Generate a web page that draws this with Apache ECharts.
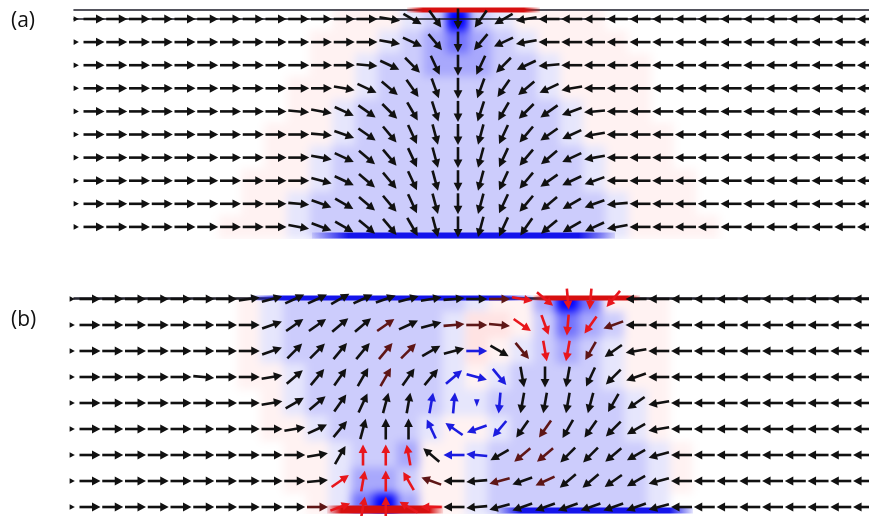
<!DOCTYPE html>
<html><head><meta charset="utf-8">
<script src="https://cdn.jsdelivr.net/npm/echarts@6/dist/echarts.min.js"></script>
<style>
html,body{margin:0;padding:0;background:#fff;overflow:hidden}
.layer{position:absolute;left:0;top:0;width:869px;height:516px}
#bg{filter:blur(4px);clip-path:path('M74 9 H869 V239 H74 Z M74 297 H869 V514 H74 Z')}
</style></head><body>
<div id="bg" class="layer"></div><div id="fg" class="layer"></div>
<script>
// ---------- data ----------
// columns: [edge column, k0..k9, k10..k19, k20..k29, k30..k34]; angle in degrees (0 = right, 90 = up)
const panelLabels = ['(a)', '(b)'];
const EDGE_X = -0.78;

const angA = [
 [0, 0,0,0,0,0,0,0,0,0,0, 0,0,0,-10,-30,-55,-90,-125,-150,-170, 180,180,180,180,180,180,180,180,180,180, 180,180,180,180,180],
 [0, 0,0,0,0,0,0,0,0,0,0, 0,0,0,-10,-25,-50,-90,-130,-155,-170, 180,180,180,180,180,180,180,180,180,180, 180,180,180,180,180],
 [0, 0,0,0,0,0,0,0,0,0,0, 0,0,-5,-25,-45,-65,-90,-115,-135,-155, -175,180,180,180,180,180,180,180,180,180, 180,180,180,180,180],
 [0, 0,0,0,0,0,0,0,0,0,0, 0,-10,-25,-40,-55,-70,-90,-110,-125,-140, -155,-170,180,180,180,180,180,180,180,180, 180,180,180,180,180],
 [0, 0,0,0,0,0,0,0,0,0,-5, -10,-25,-35,-45,-60,-72,-90,-108,-120,-135, -145,-160,-175,180,180,180,180,180,180,180, 180,180,180,180,180],
 [0, 0,0,0,0,0,0,0,0,0,0, -5,-20,-35,-50,-65,-75,-90,-105,-115,-130, -145,-155,-170,180,180,180,180,180,180,180, 180,180,180,180,180],
 [0, 0,0,0,0,0,0,0,0,0,0, -10,-25,-40,-50,-65,-75,-90,-105,-115,-130, -140,-155,-170,180,180,180,180,180,180,180, 180,180,180,180,180],
 [0, 0,0,0,0,0,0,0,0,0,0, -15,-25,-40,-50,-65,-75,-90,-105,-115,-130, -145,-155,-160,180,180,180,180,180,180,180, 180,180,180,180,180],
 [0, 0,0,0,0,0,0,0,0,0,-5, -20,-30,-40,-50,-65,-75,-90,-105,-115,-130, -140,-150,-160,-175,180,180,180,180,180,180, 180,180,180,180,180],
 [0, 0,0,0,0,0,0,0,0,0,-10, -20,-30,-40,-50,-60,-75,-90,-105,-115,-125, -140,-150,-155,-170,180,180,180,180,180,180, 180,180,180,180,180]
];

const angB = [
 [0, 0,0,0,0,0,0,0,8,15,25, 25,30,25,20,15,10,5,0,0,-10, -40,-85,-95,-130,180,180,180,180,180,180, 180,180,180,180,180],
 [0, 0,0,0,0,0,0,0,0,20,35, 35,40,40,35,25,15,5,0,-5,-35, -70,-95,-125,-160,180,180,180,180,180,180, 180,180,180,180,180],
 [0, 0,0,0,0,0,0,0,0,20,45, 45,50,50,50,45,30,15,0,-30,-50, -80,-100,-120,-145,-170,180,180,180,180,180, 180,180,180,180,180],
 [0, 0,0,0,0,0,-5,0,0,10,40, 50,55,60,60,55,50,40,-15,-50,-80, -90,-100,-115,-135,-160,180,180,180,180,180, 180,180,180,180,180],
 [0, 0,0,0,0,0,0,0,0,10,30, 40,55,65,75,80,80,85,-90,-95,-100, -100,-100,-105,-120,-145,-170,180,180,180,180, 180,180,180,180,180],
 [0, 0,0,0,0,0,0,0,0,0,10, 25,50,75,90,90,115,145,-160,-130,-125, -125,-120,-125,-135,-150,-170,180,180,180,180, 180,180,180,180,180],
 [0, 0,0,0,0,0,0,0,0,0,0, 10,60,90,90,100,140,180,175,-150,-140, -140,-135,-135,-140,-150,-165,180,180,180,180, 180,180,180,180,180],
 [0, 0,0,0,0,0,0,0,0,0,0, 5,35,80,90,120,160,180,-175,-165,-160, -155,-140,-140,-145,-150,-165,180,180,180,180, 180,180,180,180,180],
 [0, 0,0,0,0,0,0,0,0,0,0, 0,20,80,90,150,180,180,-175,-165,-160, -160,-160,-160,-160,-160,-165,180,180,180,180, 180,180,180,180,180]
];
// short arrows in (b): [k, row, relative length]
const shortB = [[17, 4, 0.35]];

// arrow colour codes for (b): k black, r red, d dark red, b blue
const colB = [
 'k kkkkkkkkkk kkkkkkkkdr rrrrkkkkkk kkkkk',
 'k kkkkkkkkkk kkkdkkdddr rrrdkkkkkk kkkkk',
 'k kkkkkkkkkk kkkddkkbkd rrdkkkkkkk kkkkk',
 'k kkkkkkkkkk kkkdkkbbbk kkkkkkkkkk kkkkk',
 'k kkkkkkkkkk kkkkkbbbbk kkkkkkkkkk kkkkk',
 'k kkkkkkkkkk kkkkkbbbbk dkkkkkkkkk kkkkk',
 'k kkkkkkkkkk kkrrrkbbkd dkkkkkkkkk kkkkk',
 'k kkkkkkkkkk krrrrdkkdk dkkkkkkkkk kkkkk',
 'k kkkkkkkkkk drrrrrkkkk kkkkkkkkkk kkkkk'
].map(s => s.replace(/ /g, ''));

// background field levels: . none, p/q pink, b/c/d/e blue of growing strength, B deep blue
const heatLevels = {'.': 0, 'p': 0.05, 'q': 0.11, 'b': -0.1, 'c': -0.2, 'd': -0.34, 'e': -0.55, 'B': -1};
const heatA = [
 '. .......... .pppbcBcbp ppp....... .....',
 '. .......... pppbcdedcb pppp...... .....',
 '. .......... ppbccdddcc bpppp..... .....',
 '. .........p ppbccccccc bpppp..... .....',
 '. .........p pbcccccccc cbppp..... .....',
 '. ........pp pbcccccccc cbpppp.... .....',
 '. ........pp bccccccccc ccbppp.... .....',
 '. .......ppp bccccccccc ccbpppp... .....',
 '. .......ppb cccccccccc cccbppp... .....',
 '. ......pppb cccccccccc cccbpppp.. .....'
].map(s => s.replace(/ /g, ''));
const heatB = [
 '. .......pbc cccccccbpp dBeppp.... .....',
 '. .......pbc ccccccbqqp cedcpp.... .....',
 '. .......pbc ccccccbqpb cdcbpp.... .....',
 '. .......ppb ccccccbpbc cccbpp.... .....',
 '. ........pb ccccccbbcc ccccbp.... .....',
 '. ........pp bccccbppbc ccccbp.... .....',
 '. .........p pbccdppbcc cccccbp... .....',
 '. .........p pbddcppbcc cccccbp... .....',
 '. .......... pbeBdppbcc cccccb.... .....'
].map(s => s.replace(/ /g, ''));

// coloured wall segments: [from column, to column, wall, kind]
const barsA = [[13.76, 19.6, 'top', 'red'], [9.58, 22.9, 'bottom', 'blue']];
const barsB = [[7.03, 19.47, 'top', 'blue'], [19.47, 24.18, 'top', 'red'], [10.42, 15.52, 'bottom', 'red'], [17.89, 26.5, 'bottom', 'blue']];

// ---------- layout ----------
const AX = {min: -0.879, max: 34.066}, AY = {min: -0.39, max: 9.48};
const BX = {min: -0.703, max: 34.24}, BY = {min: -0.038, max: 8.23};
const grids = [
  {left: 74, top: 10, width: 795, height: 228},
  {left: 74, top: 298, width: 795, height: 215}
];

const COLOR_CODE = {k: 0, r: 1, d: 2, b: 3};
const ARROW_COLORS = ['#111111', '#e8161c', '#5e1616', '#1c1ce0'];
function colX(i) { return i === 0 ? EDGE_X : i - 1; }

function buildArrows(ang, colors, shorts) {
  const out = [];
  ang.forEach((row, r) => row.forEach((a, i) => {
    let s = i === 0 ? 0.25 : 1;
    shorts.forEach(sh => { if (sh[0] + 1 === i && sh[1] === r) s = sh[2]; });
    const c = colors ? COLOR_CODE[colors[r][i]] : 0;
    out.push([colX(i), r, a, s, c]);
  }));
  return out;
}
function buildHeat(rows) {
  const out = [];
  rows.forEach((row, r) => { for (let i = 0; i < row.length; i++) out.push([colX(i), r, heatLevels[row[i]]]); });
  return out;
}
function heatColor(v) {
  if (v < 0) { const c = Math.round(255 * (1 + v)); return 'rgb(' + c + ',' + c + ',' + 252 + ')'; }
  const c = Math.round(255 * (1 - v)); return 'rgb(255,' + c + ',' + c + ')';
}
function heatItem(params, api) {
  const x = api.value(0), y = api.value(1), v = api.value(2);
  const p0 = api.coord([x - 0.5, y - 0.5]), p1 = api.coord([x + 0.5, y + 0.5]);
  return {type: 'rect', shape: {x: Math.min(p0[0], p1[0]) - 0.5, y: Math.min(p0[1], p1[1]) - 0.5,
    width: Math.abs(p1[0] - p0[0]) + 1, height: Math.abs(p1[1] - p0[1]) + 1}, style: {fill: heatColor(v)}};
}
function arrowItem(params, api) {
  const c = api.coord([api.value(0), api.value(1)]);
  const a = api.value(2) * Math.PI / 180, s = api.value(3);
  const col = ARROW_COLORS[api.value(4)];
  const L = 21 * s, hl = Math.min(8.5, L), hw = s < 1 ? 2.8 : 4.4;
  const ux = Math.cos(a), uy = -Math.sin(a), nx = -uy, ny = ux;
  const tip = [c[0] + ux * L / 2, c[1] + uy * L / 2], tail = [c[0] - ux * L / 2, c[1] - uy * L / 2];
  const bx = tip[0] - ux * hl, by = tip[1] - uy * hl;
  const children = [{type: 'polygon', shape: {points: [tip, [bx + nx * hw, by + ny * hw], [bx - nx * hw, by - ny * hw]]}, style: {fill: col}}];
  if (L > hl + 0.5) children.push({type: 'line', shape: {x1: tail[0], y1: tail[1], x2: bx + ux, y2: by + uy}, style: {stroke: col, lineWidth: 2.6}});
  return {type: 'group', children};
}
function makeBarItem(bars, yTop, yBot) {
  return function (params, api) {
    const b = bars[params.dataIndex];
    const onTop = b[2] === 'top';
    const wy = onTop ? yTop : yBot;
    const p1 = api.coord([b[0], wy]), p2 = api.coord([b[1], wy]);
    const thick = onTop ? 5 : (b[3] === 'red' ? 8 : 6);
    const y = onTop ? p1[1] - 2.5 : p1[1] - thick + 0.5;
    const base = b[3] === 'red' ? '215,15,15' : '20,20,235';
    const fill = new echarts.graphic.LinearGradient(0, 0, 1, 0, [
      {offset: 0, color: 'rgba(' + base + ',0.12)'}, {offset: 0.12, color: 'rgba(' + base + ',1)'},
      {offset: 0.88, color: 'rgba(' + base + ',1)'}, {offset: 1, color: 'rgba(' + base + ',0.12)'}]);
    return {type: 'rect', shape: {x: p1[0], y: y, width: p2[0] - p1[0], height: thick}, style: {fill: fill}};
  };
}

function axes(showLine) {
  const line = {show: showLine, lineStyle: {color: '#1c1c28', width: 1.6}};
  const xa = (g, r, pos) => ({type: 'value', gridIndex: g, min: r.min, max: r.max, position: pos,
    axisLine: line, axisTick: {show: false}, axisLabel: {show: false}, splitLine: {show: false}});
  const ya = (g, r) => ({type: 'value', gridIndex: g, min: r.min, max: r.max, inverse: true, show: false, splitLine: {show: false}});
  return {
    xAxis: [xa(0, AX, 'bottom'), xa(0, AX, 'top'), xa(1, BX, 'bottom'), xa(1, BX, 'top')],
    yAxis: [ya(0, AY), ya(1, BY)]
  };
}

// ---------- background field (blurred) ----------
const bg = echarts.init(document.getElementById('bg'), null, {renderer: 'canvas'});
bg.setOption(Object.assign({
  animation: false, backgroundColor: '#fff', grid: grids,
  series: [
    {type: 'custom', xAxisIndex: 0, yAxisIndex: 0, renderItem: heatItem, data: buildHeat(heatA), silent: true},
    {type: 'custom', xAxisIndex: 2, yAxisIndex: 1, renderItem: heatItem, data: buildHeat(heatB), silent: true}
  ]
}, axes(false)));

// ---------- arrows, walls and labels ----------
const fg = echarts.init(document.getElementById('fg'), null, {renderer: 'canvas'});
fg.setOption(Object.assign({
  animation: false, backgroundColor: 'transparent', grid: grids,
  graphic: [
    {type: 'text', left: 11, top: 11, style: {text: panelLabels[0], font: '21px "Open Sans", sans-serif', fill: '#111'}},
    {type: 'text', left: 11, top: 310, style: {text: panelLabels[1], font: '21px "Open Sans", sans-serif', fill: '#111'}}
  ],
  series: [
    {type: 'custom', xAxisIndex: 0, yAxisIndex: 0, z: 2, renderItem: makeBarItem(barsA, AY.min, AY.max), data: barsA.map(b => [b[0], b[1]]), silent: true},
    {type: 'custom', xAxisIndex: 2, yAxisIndex: 1, z: 2, renderItem: makeBarItem(barsB, BY.min, BY.max), data: barsB.map(b => [b[0], b[1]]), silent: true},
    {type: 'custom', xAxisIndex: 0, yAxisIndex: 0, z: 3, renderItem: arrowItem, data: buildArrows(angA, null, []), silent: true},
    {type: 'custom', xAxisIndex: 2, yAxisIndex: 1, z: 3, renderItem: arrowItem, data: buildArrows(angB, colB, shortB), silent: true}
  ]
}, axes(true)));
</script></body></html>
